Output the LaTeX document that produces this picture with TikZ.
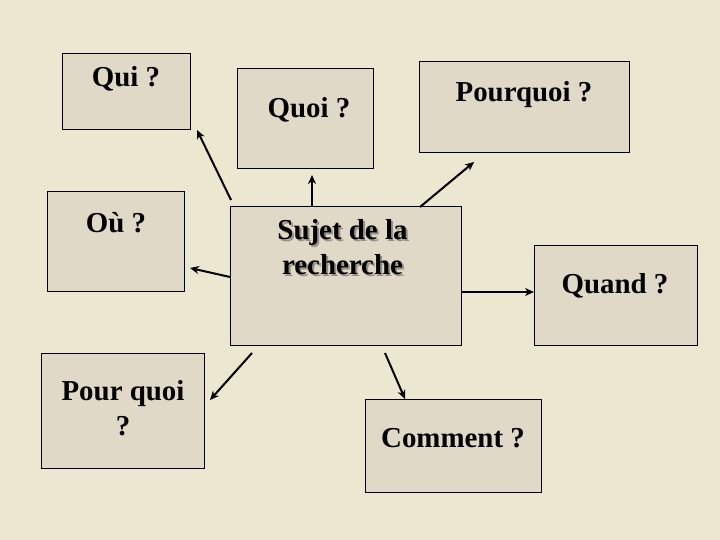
\documentclass[tikz,border=0pt]{standalone}
\usepackage{fontspec}
\setmainfont{Liberation Serif}
\usetikzlibrary{arrows.meta}
\definecolor{bgcol}{RGB}{236,231,208}
\definecolor{boxcol}{RGB}{224,217,199}
\definecolor{shadowcol}{RGB}{150,145,135}
\newcommand{\shtext}[1]{\leavevmode\rlap{\kern2bp\raisebox{-2bp}{\textcolor{shadowcol}{#1}}}#1}
\tikzset{
  qbox/.style={draw=black, line width=1bp, fill=boxcol, rectangle, inner sep=0pt},
  qtext/.style={font=\fontsize{29}{35}\selectfont\bfseries, inner sep=0pt, align=center},
  conn/.style={line width=2bp, -{Stealth[length=9bp,width=8bp]}}
}
\begin{document}
\begin{tikzpicture}[x=1bp,y=-1bp]
\fill[bgcol] (0,0) rectangle (720,540);
\useasboundingbox (0,0) rectangle (720,540);
% boxes
\node[qbox, minimum width=128bp, minimum height=76bp] (qui) at (126,92) {};
\node[qbox, minimum width=136bp, minimum height=100bp] (quoi) at (305,119) {};
\node[qbox, minimum width=210bp, minimum height=91bp] (pourquoi) at (524,107.5) {};
\node[qbox, minimum width=136bp, minimum height=99bp] (ou) at (116,241.5) {};
\node[qbox, minimum width=231bp, minimum height=138bp] (sujet) at (345.5,276) {};
\node[qbox, minimum width=163bp, minimum height=99bp] (quand) at (615.5,295.5) {};
\node[qbox, minimum width=162bp, minimum height=115bp] (pourquoib) at (123,410.5) {};
\node[qbox, minimum width=176bp, minimum height=93bp] (comment) at (453,445.5) {};
% texts
\node[qtext, anchor=base] (tqui) at (126,87) {Qui ?};
\node[qtext, anchor=base] (tquoi) at (309,118) {Quoi ?};
\node[qtext, anchor=base] (tpourquoi) at (524,102) {Pourquoi ?};
\node[qtext, anchor=base] (tou) at (116,233) {Où ?};
\node[qtext, anchor=base] (tquand) at (615,293) {Quand ?};
\node[qtext, anchor=base] (tcomment) at (453,447) {Comment ?};
\node[qtext, anchor=center] (tpourquoib) at (123,408) {Pour quoi\\?};
\node[qtext, anchor=center] (tsujet) at (342.5,248) {\shtext{Sujet de la}\\\shtext{recherche}};
% connector endpoints
\coordinate (s1) at (231,200);
\coordinate (e1) at (197,130);
\coordinate (s2) at (230,277);
\coordinate (e2) at (190,268);
\coordinate (s3) at (312,207);
\coordinate (e3) at (312,175);
\coordinate (s4) at (420,207);
\coordinate (e4) at (474,162);
\coordinate (s5) at (461,292);
\coordinate (e5) at (534,292);
\coordinate (s6) at (252,353);
\coordinate (e6) at (210,400);
\coordinate (s7) at (385,353);
\coordinate (e7) at (405,399);
\draw[conn] (s1) -- (e1);
\draw[conn] (s2) -- (e2);
\draw[conn] (s3) -- (e3);
\draw[conn] (s4) -- (e4);
\draw[conn] (s5) -- (e5);
\draw[conn] (s6) -- (e6);
\draw[conn] (s7) -- (e7);
\end{tikzpicture}
\end{document}
